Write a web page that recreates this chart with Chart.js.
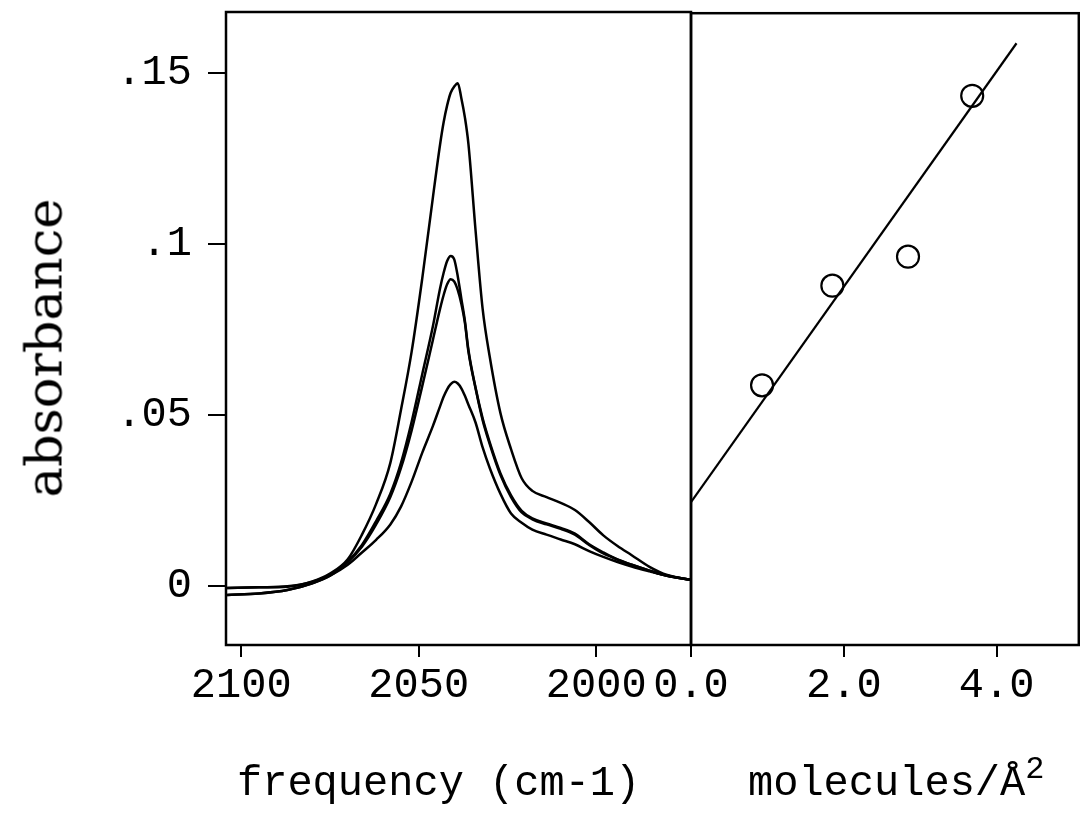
<!DOCTYPE html>
<html><head><meta charset="utf-8">
<script src="https://cdn.jsdelivr.net/npm/chart.js@4/dist/chart.umd.min.js"></script>
<style>
html,body{margin:0;padding:0;background:#fff;}
#wrap{position:relative;width:1080px;height:818px;overflow:hidden;background:#fff;}
canvas{position:absolute;left:0;top:0;}
.t{position:absolute;font-family:'Liberation Mono','DejaVu Sans Mono',monospace;font-size:42px;line-height:42px;color:#000;white-space:nowrap;}
#yt{font-family:'DejaVu Serif',serif;font-size:51px;line-height:51px;left:44px;top:348px;transform:translate(-50%,-50%) rotate(-90deg);}
</style></head><body>
<div id="wrap">
<canvas id="cL" width="1080" height="818" style="width:1080px;height:818px"></canvas>
<canvas id="cR" width="1092" height="818" style="width:1092px;height:818px"></canvas>
<div class="t" id="yt">absorbance</div>
<div class="t" style="left:237px;top:763px">frequency (cm-1)</div>
<div class="t" style="left:748px;top:763px">molecules/Å<span style="font-size:32px;position:relative;top:-17px">2</span></div>
</div>
<script>
// ---- data ----
const freq = [2104, 2095, 2087, 2080, 2075, 2070, 2066, 2062, 2058, 2055,
              2052, 2049, 2046, 2044, 2043, 2042, 2041, 2040, 2039, 2038,
              2037, 2036, 2034, 2032, 2030, 2027, 2024, 2021, 2018, 2014,
              2010, 2006, 2002, 1998, 1994, 1990, 1985, 1980, 1973.5];
const absA = [-0.0006, -0.0004, -0.0002, 0.0013, 0.0036, 0.0078, 0.0150, 0.0240, 0.0360, 0.0515,
              0.0685, 0.0900, 0.1137, 0.1290, 0.1355, 0.1405, 0.1442, 0.1460, 0.1470, 0.1426,
              0.1370, 0.1292, 0.1040, 0.0810, 0.0670, 0.0506, 0.0400, 0.0315, 0.0278, 0.0260,
              0.0243, 0.0222, 0.0187, 0.0148, 0.0117, 0.0090, 0.0056, 0.0032, 0.0018];
const absB = [-0.0006, -0.0004, -0.0001, 0.0012, 0.0033, 0.0072, 0.0120, 0.0190, 0.0270, 0.0360,
              0.0480, 0.0620, 0.0760, 0.0870, 0.0915, 0.0950, 0.0965, 0.0955, 0.0905, 0.0840,
              0.0775, 0.0690, 0.0580, 0.0490, 0.0420, 0.0330, 0.0265, 0.0220, 0.0198, 0.0183,
              0.0170, 0.0153, 0.0122, 0.0098, 0.0077, 0.0062, 0.0045, 0.0030, 0.0018];
const absC = [-0.0026, -0.0022, -0.0012, 0.0008, 0.0030, 0.0070, 0.0115, 0.0180, 0.0260, 0.0345,
              0.0455, 0.0585, 0.0720, 0.0810, 0.0850, 0.0882, 0.0897, 0.0890, 0.0865, 0.0825,
              0.0770, 0.0685, 0.0578, 0.0485, 0.0415, 0.0325, 0.0260, 0.0215, 0.0195, 0.0180,
              0.0167, 0.0150, 0.0120, 0.0095, 0.0078, 0.0062, 0.0045, 0.0030, 0.0018];
const absD = [-0.0026, -0.0022, -0.0012, 0.0008, 0.0030, 0.0062, 0.0098, 0.0135, 0.0180, 0.0232,
              0.0305, 0.0390, 0.0468, 0.0525, 0.0553, 0.0575, 0.0590, 0.0597, 0.0592, 0.0578,
              0.0556, 0.0530, 0.0478, 0.0405, 0.0345, 0.0270, 0.0212, 0.0185, 0.0165, 0.0150,
              0.0136, 0.0122, 0.0102, 0.0085, 0.0070, 0.0057, 0.0043, 0.0030, 0.0018];

const coverage = [0.93, 1.85, 2.84, 3.68];
const peakAbs  = [0.0588, 0.0880, 0.0965, 0.1436];
const fitX = [0, 4.26];
const fitY = [0.0246, 0.159];

const yTicks = [0, 0.05, 0.1, 0.15];
const yTickLabels = ['0', '.05', '.1', '.15'];
const freqTicks = [2100, 2050, 2000];
const freqTickLabels = ['2100', '2050', '2000'];
const covTicks = [0, 2, 4];
const covTickLabels = ['0.0', '2.0', '4.0'];

// ---- layout / style ----
const Y_MIN = -0.01725, Y_MAX = 0.1678;
const F_MIN = 1973.3, F_MAX = 2104.3;
const C_MIN = 0, C_MAX = 5.075;
const FONT = {family: "'Liberation Mono','DejaVu Sans Mono',monospace", size: 42};

const frame = {id: 'frame', afterDraw(c) {
  const {ctx, chartArea: a} = c;
  ctx.save(); ctx.strokeStyle = '#000'; ctx.lineWidth = 2.5;
  ctx.strokeRect(a.left, a.top, a.right - a.left, a.bottom - a.top);
  ctx.restore();
}};

function pts(xs, ys) { return xs.map((x, i) => ({x: x, y: ys[i]})); }
function lineDs(ys) {
  return {data: pts(freq, ys), borderColor: '#000', borderWidth: 2.5, pointRadius: 0,
          fill: false, cubicInterpolationMode: 'monotone'};
}
const yScale = (show) => ({
  type: 'linear', min: Y_MIN, max: Y_MAX, display: show,
  afterBuildTicks: s => { s.ticks = yTicks.map(v => ({value: v})); },
  afterFit: s => { s.width = show ? 226 : 0; s.paddingTop = 0; s.paddingBottom = 0; },
  grid: {drawOnChartArea: false, drawTicks: true, tickLength: 18, color: '#000', lineWidth: 2},
  border: {display: false},
  ticks: {padding: 16, color: '#000', font: FONT, autoSkip: false,
          callback: v => yTickLabels[yTicks.indexOf(v)]}
});
const xScale = (min, max, tv, tl, rev) => ({
  type: 'linear', min: min, max: max, reverse: rev,
  afterBuildTicks: s => { s.ticks = tv.map(v => ({value: v})); },
  afterFit: s => { s.height = 818 - 645; s.paddingLeft = 0; s.paddingRight = 0; },
  grid: {drawOnChartArea: false, drawTicks: true, tickLength: 12, color: '#000', lineWidth: 2},
  border: {display: false},
  ticks: {padding: 4, color: '#000', font: FONT, autoSkip: false, maxRotation: 0,
          callback: v => tl[tv.indexOf(v)]}
});

const common = {
  responsive: false, animation: false, devicePixelRatio: 1,
  plugins: {legend: {display: false}, tooltip: {enabled: false}, title: {display: false}},
  events: []
};

new Chart(document.getElementById('cL'), {
  type: 'line',
  data: {datasets: [lineDs(absA), lineDs(absB), lineDs(absC), lineDs(absD)]},
  options: Object.assign({}, common, {
    layout: {padding: {left: 0, top: 12, right: 1080 - 691, bottom: 0}},
    scales: {x: xScale(F_MIN, F_MAX, freqTicks, freqTickLabels, true), y: yScale(true)}
  }),
  plugins: [frame]
});

new Chart(document.getElementById('cR'), {
  type: 'scatter',
  data: {datasets: [
    {data: pts(coverage, peakAbs), showLine: false, pointRadius: 11, pointBorderWidth: 2.2,
     pointBorderColor: '#000', pointBackgroundColor: 'rgba(0,0,0,0)', pointStyle: 'circle'},
    {data: pts(fitX, fitY), showLine: true, pointRadius: 0, borderColor: '#000', borderWidth: 2.2, fill: false}
  ]},
  options: Object.assign({}, common, {
    layout: {padding: {left: 691, top: 12, right: 0, bottom: 0}},
    scales: {x: xScale(C_MIN, C_MAX, covTicks, covTickLabels, false), y: yScale(false)}
  }),
  plugins: [frame]
});
</script>
</body></html>
